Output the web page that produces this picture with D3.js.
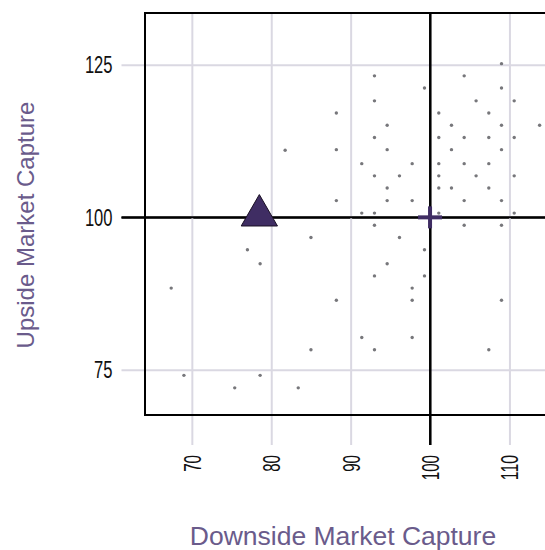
<!DOCTYPE html>
<html>
<head>
<meta charset="utf-8">
<script src="https://cdn.jsdelivr.net/npm/d3@7"></script>
<style>
  html, body { margin: 0; padding: 0; background: #fff; }
  svg { display: block; }
</style>
</head>
<body>
<div id="chart"></div>
<script>
// ---- data ----
const peerDownside = [109.0, 93.0, 104.3, 99.3, 109.0, 93.0, 105.8, 110.6, 88.2, 101.1, 107.4, 94.6, 102.7, 109.0, 113.8,
  93.0, 101.1, 104.3, 107.4, 110.6, 88.2, 94.6, 102.7, 109.0, 81.75, 91.4, 97.75, 101.1, 104.3, 107.4,
  93.0, 96.15, 101.1, 105.8, 110.6, 94.6, 101.1, 102.7, 107.4, 88.2, 94.6, 97.75, 104.3, 109.0,
  91.4, 93.0, 101.1, 110.6, 93.0, 104.3, 109.0, 96.15, 85.0, 99.3, 77.0, 94.6, 78.6, 93.0, 99.3,
  97.75, 67.4, 88.2, 97.75, 109.0, 91.4, 97.75, 93.0, 107.4, 85.0, 69.0, 78.6, 75.4, 83.4];
const peerUpside = [125.2, 123.2, 123.2, 121.2, 121.2, 119.1, 119.1, 119.1, 117.1, 117.1, 117.1, 115.1, 115.1, 115.1, 115.1,
  113.1, 113.1, 113.1, 113.1, 113.1, 111.1, 111.1, 111.1, 111.1, 111.0, 108.8, 108.8, 108.8, 108.8, 108.8,
  106.8, 106.8, 106.8, 106.8, 106.8, 104.8, 104.8, 104.8, 104.8, 102.75, 102.75, 102.75, 102.75, 102.75,
  100.7, 100.7, 100.7, 100.7, 98.7, 98.7, 98.7, 96.7, 96.7, 94.7, 94.7, 92.4, 92.4, 90.4, 90.4,
  88.4, 88.4, 86.4, 86.4, 86.4, 80.3, 80.3, 78.3, 78.3, 78.3, 74.1, 74.1, 72.05, 72.05];
const fundDownside = [78.5];
const fundUpside = [100.3];
const benchmarkDownside = [100];
const benchmarkUpside = [100];
const xTicks = [70, 80, 90, 100, 110];
const yTicks = [75, 100, 125];
const xDomain = [64.1, 118.5];
const yDomain = [67.6, 133.5];
const xTitle = "Downside Market Capture";
const yTitle = "Upside Market Capture";

// ---- layout ----
const W = 545, H = 550;
const plot = { left: 145, top: 13, bottom: 415 };
const pxPerX = 7.94;
const x = d3.scaleLinear().domain(xDomain).range([plot.left, plot.left + (xDomain[1] - xDomain[0]) * pxPerX]);
const y = d3.scaleLinear().domain(yDomain).range([plot.bottom, plot.top]);
const plotRight = x(xDomain[1]);

const gridColor = "#dad8e2";
const titleColor = "#6a5b8b";
const markColor = "#3f2d63";
const tickFont = "'Liberation Sans Narrow', 'Arial Narrow', 'Liberation Sans', Arial, sans-serif";

const svg = d3.select("#chart").append("svg").attr("width", W).attr("height", H)
  .style("font-family", "'Liberation Sans', Arial, sans-serif");

// grid via axes
const yAxis = d3.axisLeft(y).tickValues(yTicks).tickSize(-(plotRight - plot.left));
const gy = svg.append("g").attr("transform", `translate(${plot.left},0)`).call(yAxis);
gy.select(".domain").remove();
gy.selectAll(".tick line")
  .attr("x1", -23.5)
  .attr("stroke", d => d === 100 ? "#000" : gridColor)
  .attr("stroke-width", 2);
gy.selectAll(".tick text")
  .attr("x", -32.5)
  .attr("fill", "#111")
  .style("font-family", tickFont)
  .style("font-size", "24px")
  .attr("textLength", d => String(d).length * 9.2)
  .attr("lengthAdjust", "spacingAndGlyphs");

const xAxis = d3.axisBottom(x).tickValues(xTicks).tickSize(-(plot.bottom - plot.top));
const gx = svg.append("g").attr("transform", `translate(0,${plot.bottom})`).call(xAxis);
gx.select(".domain").remove();
gx.selectAll(".tick line")
  .attr("y1", 30)
  .attr("stroke", d => d === 100 ? "#000" : gridColor)
  .attr("stroke-width", 2);
gx.selectAll(".tick text")
  .attr("transform", "rotate(-90)")
  .attr("text-anchor", "end")
  .attr("x", -40)
  .attr("y", 0)
  .attr("dy", "0.35em")
  .attr("fill", "#111")
  .style("font-family", tickFont)
  .style("font-size", "24px")
  .attr("textLength", d => String(d).length * 8.4)
  .attr("lengthAdjust", "spacingAndGlyphs");

gy.selectAll(".tick").filter(d => d === 100).raise();
gx.selectAll(".tick").filter(d => d === 100).raise();

// border (left, top, bottom; right is off-screen)
svg.append("rect")
  .attr("x", plot.left).attr("y", plot.top)
  .attr("width", plotRight - plot.left).attr("height", plot.bottom - plot.top)
  .attr("fill", "none").attr("stroke", "#000").attr("stroke-width", 2);

// reference lines
svg.append("line").attr("x1", x(100)).attr("x2", x(100)).attr("y1", plot.top).attr("y2", plot.bottom + 30)
  .attr("stroke", "#000").attr("stroke-width", 2);
svg.append("line").attr("x1", plot.left - 23.5).attr("x2", plotRight).attr("y1", y(100)).attr("y2", y(100))
  .attr("stroke", "#000").attr("stroke-width", 2);

// peers
const peers = peerDownside.map((d, i) => ({ dx: d, up: peerUpside[i] }));
svg.append("g").selectAll("circle").data(peers).join("circle")
  .attr("cx", d => x(d.dx)).attr("cy", d => y(d.up)).attr("r", 1.7)
  .attr("fill", "#77777b");

// benchmark cross
const bench = benchmarkDownside.map((d, i) => ({ dx: d, up: benchmarkUpside[i] }));
const bg = svg.append("g").selectAll("g").data(bench).join("g")
  .attr("transform", d => `translate(${x(d.dx)},${y(d.up)})`);
bg.append("line").attr("x1", -12).attr("x2", 12).attr("stroke", markColor).attr("stroke-width", 4);
bg.append("line").attr("y1", -11).attr("y2", 11).attr("stroke", markColor).attr("stroke-width", 4);

// fund triangle
const fund = fundDownside.map((d, i) => ({ dx: d, up: fundUpside[i] }));
svg.append("g").selectAll("path").data(fund).join("path")
  .attr("transform", d => `translate(${x(d.dx)},${y(d.up)})`)
  .attr("d", d3.symbol(d3.symbolTriangle, 570))
  .attr("fill", markColor).attr("stroke", "#1a1024").attr("stroke-width", 1);

// titles
svg.append("text")
  .attr("x", 343).attr("y", 545)
  .attr("text-anchor", "middle")
  .attr("fill", titleColor)
  .style("font-size", "26.5px")
  .text(xTitle);
svg.append("text")
  .attr("transform", `translate(34,225) rotate(-90)`)
  .attr("text-anchor", "middle")
  .attr("fill", titleColor)
  .style("font-size", "24px")
  .text(yTitle);
</script>
</body>
</html>
